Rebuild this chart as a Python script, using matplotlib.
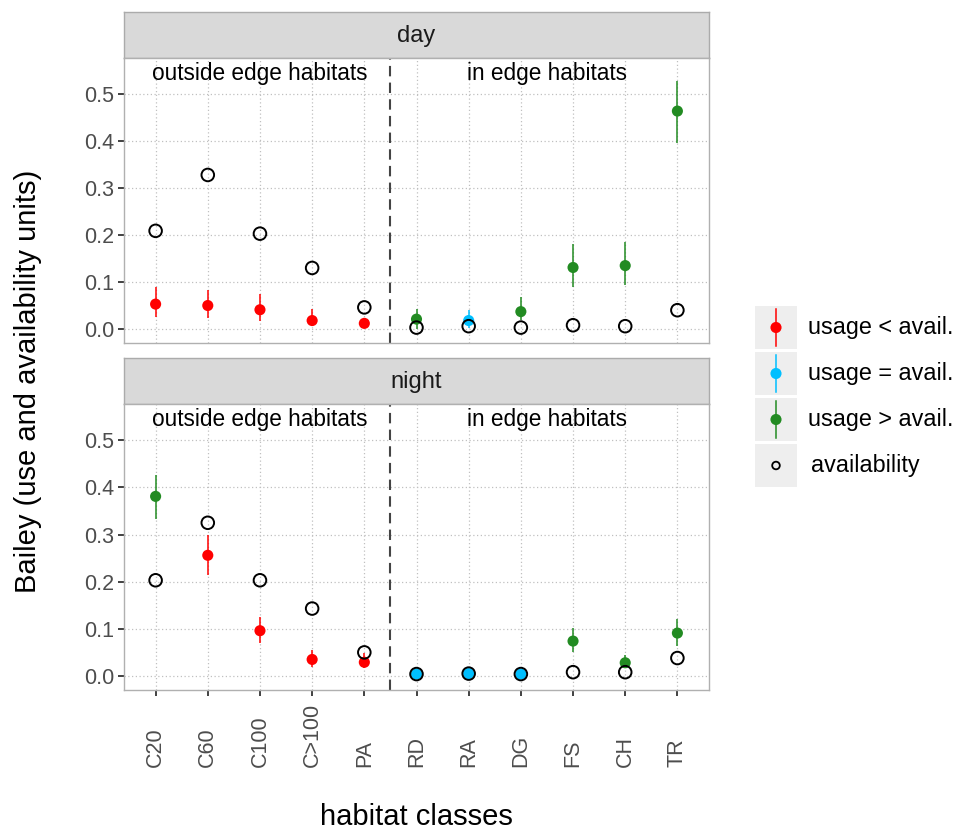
import numpy as np
import matplotlib
matplotlib.use("Agg")
import matplotlib.pyplot as plt
from matplotlib.patches import Rectangle
from matplotlib.transforms import blended_transform_factory

plt.rcParams['font.family'] = ['Liberation Sans', 'DejaVu Sans']

habitats = ["C20", "C60", "C100", "C>100", "PA", "RD", "RA", "DG", "FS", "CH", "TR"]

# day: usage estimate, CI, availability, class
day_use = [0.053, 0.050, 0.041, 0.018, 0.012, 0.021, 0.018, 0.037, 0.131, 0.135, 0.464]
day_lo = [0.026, 0.023, 0.018, 0.008, 0.006, 0.000, 0.002, 0.019, 0.090, 0.094, 0.397]
day_hi = [0.090, 0.084, 0.074, 0.043, 0.020, 0.043, 0.040, 0.069, 0.181, 0.186, 0.528]
day_avail = [0.209, 0.328, 0.203, 0.130, 0.046, 0.003, 0.006, 0.003, 0.008, 0.006, 0.040]
day_cls = ["lt", "lt", "lt", "lt", "lt", "gt", "eq", "gt", "gt", "gt", "gt"]

# night
night_use = [0.381, 0.256, 0.096, 0.035, 0.029, 0.004, 0.005, 0.004, 0.074, 0.028, 0.091]
night_lo = [0.334, 0.215, 0.070, 0.018, 0.016, 0.001, 0.001, 0.001, 0.050, 0.016, 0.064]
night_hi = [0.426, 0.300, 0.126, 0.055, 0.048, 0.008, 0.009, 0.008, 0.101, 0.045, 0.121]
night_avail = [0.203, 0.325, 0.203, 0.143, 0.050, 0.004, 0.005, 0.004, 0.008, 0.008, 0.038]
night_cls = ["gt", "lt", "lt", "lt", "lt", "eq", "eq", "eq", "gt", "gt", "gt"]

cls_colors = {"lt": "#FF0000", "eq": "#00BFFF", "gt": "#228B22"}
cls_labels = [("lt", "usage < avail."), ("eq", "usage = avail."), ("gt", "usage > avail.")]

W, H = 964, 830
fig = plt.figure(figsize=(W / 100, H / 100), dpi=100)


def box(l, t, r, b):
    return [l / W, 1 - b / H, (r - l) / W, (b - t) / H]


def strip(rect, label):
    ax = fig.add_axes(box(*rect))
    ax.set_facecolor("#D9D9D9")
    ax.set_xticks([])
    ax.set_yticks([])
    for s in ax.spines.values():
        s.set_color("#ABABAB")
        s.set_linewidth(1.0)
    ax.text(0.5, 0.48, label, ha="center", va="center", fontsize=17, color="#1A1A1A",
            transform=ax.transAxes)


def panel(rect, use, lo, hi, avail, cls, show_x):
    ax = fig.add_axes(box(*rect))
    x = np.arange(1, len(habitats) + 1)
    ax.set_xlim(0.4, 11.6)
    ax.set_ylim(-0.0298, 0.577)
    ax.set_yticks([0.0, 0.1, 0.2, 0.3, 0.4, 0.5])
    ax.set_yticklabels(["0.0", "0.1", "0.2", "0.3", "0.4", "0.5"])
    ax.set_xticks(x)
    ax.grid(True, linestyle=(0, (1, 2)), color="#C0C0C0", linewidth=0.9)
    ax.set_axisbelow(True)
    for s in ax.spines.values():
        s.set_color("#B0B0B0")
        s.set_linewidth(1.0)
    ax.tick_params(axis="y", length=4.5, width=1.3, color="#333333",
                   labelsize=15.5, labelcolor="#4D4D4D", pad=3)
    ax.set_xticklabels([])
    if show_x:
        ax.tick_params(axis="x", length=4.5, width=1.3, color="#333333")
        # labels bottom-aligned like the ggplot output
        tr = blended_transform_factory(ax.transData, fig.transFigure)
        for xi, lab in zip(x, habitats):
            ax.text(xi, 1 - 767 / H, lab, rotation=90, ha="center", va="bottom",
                    fontsize=15.5, color="#4D4D4D", transform=tr)
    else:
        ax.tick_params(axis="x", length=0)

    ax.axvline(5.5, color="#444444", linewidth=1.5, linestyle=(0, (5, 3)), zorder=2)

    cols = [cls_colors[c] for c in cls]
    ax.vlines(x, lo, hi, colors=cols, linewidth=1.1, zorder=3)
    ax.scatter(x, use, s=64, c=cols, edgecolors="none", zorder=4)
    ax.scatter(x, avail, s=82, facecolors="none", edgecolors="black", linewidths=1.4, zorder=5)

    ax.text(3, 0.545, "outside edge habitats", ha="center", va="center", fontsize=16.3,
            color="black")
    ax.text(8.5, 0.545, "in edge habitats", ha="center", va="center", fontsize=16.3,
            color="black")
    return ax


strip((124.3, 12, 708.7, 58), "day")
panel((124.3, 58, 708.7, 343), day_use, day_lo, day_hi, day_avail, day_cls, False)
strip((124.3, 358, 708.7, 404), "night")
panel((124.3, 404, 708.7, 690), night_use, night_lo, night_hi, night_avail, night_cls, True)

fig.text(28 / W, 1 - 381 / H, "Bailey (use and availability units)", rotation=90,
         ha="center", va="center", fontsize=21, color="black")
fig.text(416 / W, 1 - 817 / H, "habitat classes", ha="center", va="center",
         fontsize=21, color="black")

# legend drawn by hand (ggplot-like keys)
lax = fig.add_axes(box(740, 295, 964, 500))
lax.set_xlim(740, 964)
lax.set_ylim(500, 295)
lax.axis("off")
key_tops = [306, 352, 398, 444]
key_h = 43
for i, top in enumerate(key_tops):
    lax.add_patch(Rectangle((755, top), 42, key_h, facecolor="#EEEEEE", edgecolor="none"))
    cy = top + key_h / 2
    if i < 3:
        c, lab = cls_labels[i]
        lax.plot([776, 776], [top + 3, top + key_h - 3], color=cls_colors[c], linewidth=1.1)
        lax.scatter([776], [cy], s=64, c=cls_colors[c], edgecolors="none")
        lax.text(808, cy, lab, ha="left", va="center", fontsize=16.8, color="black")
    else:
        lax.scatter([776], [cy], s=30, facecolors="none", edgecolors="black", linewidths=1.3)
        lax.text(811, cy, "availability", ha="left", va="center", fontsize=16.8, color="black")

fig.savefig("out.png", dpi=100)
